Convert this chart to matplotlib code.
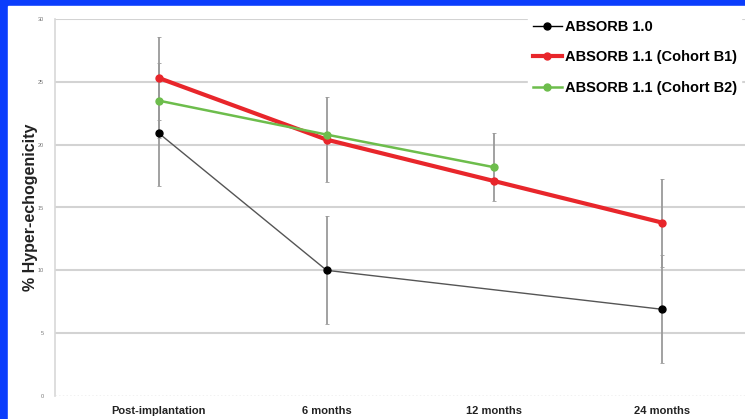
import numpy as np
import matplotlib.pyplot as plt

plt.rcParams["font.family"] = ["Liberation Sans", "DejaVu Sans"]

# data
categories = ["Post-implantation", "6 months", "12 months", "24 months"]
absorb10 = [20.9, 10.0, np.nan, 6.9]
absorb10_err = [4.2, 4.3, np.nan, 4.3]
cohort_b1 = [25.3, 20.4, 17.1, 13.8]
cohort_b1_err = [3.3, 3.4, np.nan, 3.5]
cohort_b2 = [23.5, 20.8, 18.2, np.nan]
cohort_b2_err = [3.0, np.nan, 2.7, np.nan]
y_ticks = [0, 5, 10, 15, 20, 25, 30]

fig = plt.figure(figsize=(7.45, 4.19), dpi=100)
fig.patch.set_facecolor("#0b3dfc")

# white panel (the blue shows only as a thin frame top/left)
fig.add_artist(plt.Rectangle((8 / 745, 0), 1, 1 - 6 / 419,
                             transform=fig.transFigure, color="white", zorder=0))

ax = fig.add_axes([55 / 745, 23 / 419, 711 / 745, 377 / 419])
ax.set_facecolor("white")
x = np.arange(len(categories))


def draw(vals, errs, color, lw, label, line_color=None):
    vals = np.array(vals, dtype=float)
    errs = np.array(errs, dtype=float)
    ok = ~np.isnan(vals)
    e_ok = ok & ~np.isnan(errs)
    ax.errorbar(x[e_ok], vals[e_ok], yerr=errs[e_ok], fmt="none",
                ecolor="#9a9a9a", elinewidth=1.3, capsize=1.5, capthick=0.6, zorder=2)
    ax.plot(x[ok], vals[ok], color=line_color or color, lw=lw, zorder=3)
    ax.plot(x[ok], vals[ok], "o", color=color, ms=5, zorder=4)
    ax.plot([], [], "-o", color=color, lw=lw, ms=5, label=label)


draw(absorb10, absorb10_err, "black", 1.0, "ABSORB 1.0", line_color="#555555")
draw(cohort_b1, cohort_b1_err, "#e8262b", 3.0, "ABSORB 1.1 (Cohort B1)")
draw(cohort_b2, cohort_b2_err, "#6dbd4c", 1.8, "ABSORB 1.1 (Cohort B2)")

ax.set_xlim(-0.62, 3.62)
ax.set_ylim(0, 30)
ax.set_yticks(y_ticks)
ax.set_yticklabels([str(v) for v in y_ticks], fontsize=4, color="#777777")
ax.set_xticks(x)
ax.set_xticklabels(categories, fontsize=8, fontweight="bold", color="#222222")
ax.tick_params(axis="x", length=0, pad=7)
ax.tick_params(axis="y", length=0, pad=8)

for v in y_ticks[1:]:
    ax.axhline(v, color="#d3d3d3", lw=1.5, zorder=1)
ax.axhline(0, color="#bbbbbb", lw=1.0, ls=":", zorder=1)

for s in ["top", "right", "bottom"]:
    ax.spines[s].set_visible(False)
ax.spines["left"].set_color("#d8d8d8")
ax.spines["left"].set_linewidth(1.2)

ax.set_ylabel("% Hyper-echogenicity", fontsize=11.5, fontweight="bold",
              color="#222222")
ax.yaxis.set_label_coords(-0.024, 0.5)

leg = ax.legend(loc="upper left", bbox_to_anchor=(521 / 745, 1 - 8 / 419),
                bbox_transform=fig.transFigure, frameon=True, handlelength=2.0,
                handletextpad=0.2, labelspacing=1.15, borderpad=0.3,
                prop={"weight": "bold", "size": 10.5})
leg.get_frame().set_facecolor("white")
leg.get_frame().set_edgecolor("white")
leg.get_frame().set_alpha(1)

fig.savefig("out.png", dpi=100, facecolor=fig.get_facecolor())
